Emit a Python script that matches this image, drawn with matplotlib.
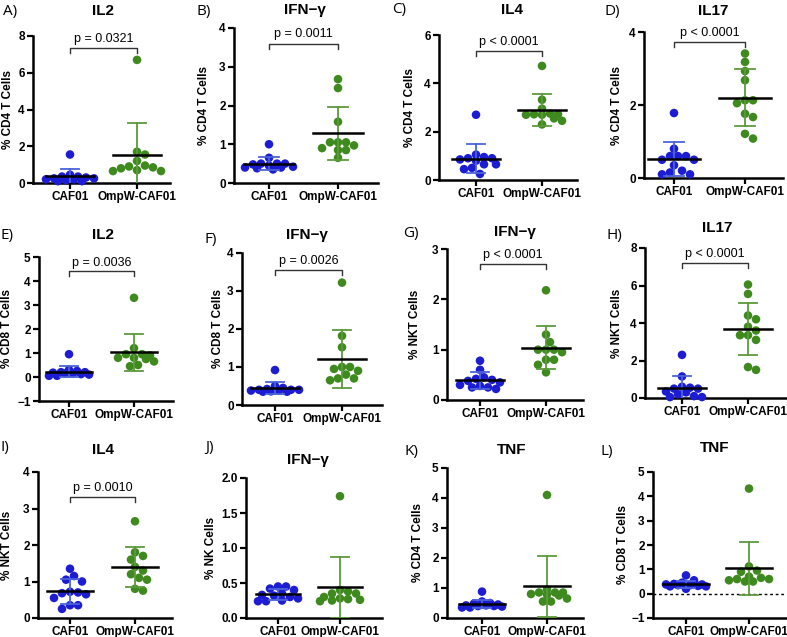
import numpy as np
import matplotlib
matplotlib.use("Agg")
import matplotlib.pyplot as plt

W, H = 787, 637
groups = ["CAF01", "OmpW-CAF01"]

letters = ["A)", "B)", "C)", "D)", "E)", "F)", "G)", "H)", "I)", "J)", "K)", "L)"]
titles = ["IL2", "IFN\u2212\u03b3", "IL4", "IL17", "IL2", "IFN\u2212\u03b3", "IFN\u2212\u03b3", "IL17",
          "IL4", "IFN\u2212\u03b3", "TNF", "TNF"]
ylabels = ["% CD4 T Cells", "% CD4 T Cells", "% CD4 T Cells", "% CD4 T Cells",
           "% CD8 T Cells", "% CD8 T Cells", "% NKT Cells", "% NKT Cells",
           "% NKT Cells", "% NK Cells", "% CD4 T Cells", "% CD8 T Cells"]
pvalues = ["p = 0.0321", "p = 0.0011", "p < 0.0001", "p < 0.0001", "p = 0.0036", "p = 0.0026",
           "p < 0.0001", "p < 0.0001", "p = 0.0010", None, None, None]
yranges = [(0, 8), (0, 4), (0, 6), (0, 4), (-1, 5), (0, 4), (0, 3), (0, 8), (0, 4), (0, 2), (0, 5), (-1, 5)]
yticks = [[0, 2, 4, 6, 8], [0, 1, 2, 3, 4], [0, 2, 4, 6], [0, 2, 4], [-1, 0, 1, 2, 3, 4, 5],
          [0, 1, 2, 3, 4], [0, 1, 2, 3], [0, 2, 4, 6, 8], [0, 1, 2, 3, 4],
          [0.0, 0.5, 1.0, 1.5, 2.0], [0, 1, 2, 3, 4, 5], [-1, 0, 1, 2, 3, 4, 5]]

caf01 = [
    [1.55, 0.45, 0.35, 0.35, 0.3, 0.25, 0.25, 0.2, 0.2, 0.15, 0.1, 0.1],
    [1.0, 0.65, 0.5, 0.5, 0.5, 0.48, 0.45, 0.42, 0.4, 0.4, 0.38, 0.35],
    [2.7, 1.05, 0.95, 0.9, 0.9, 0.85, 0.8, 0.65, 0.65, 0.5, 0.45, 0.25],
    [1.78, 0.8, 0.6, 0.6, 0.6, 0.5, 0.5, 0.35, 0.2, 0.15, 0.1, 0.1],
    [0.95, 0.3, 0.25, 0.2, 0.2, 0.18, 0.15, 0.15, 0.12, 0.1, 0.05, 0.05],
    [0.92, 0.5, 0.45, 0.42, 0.4, 0.4, 0.4, 0.38, 0.38, 0.36, 0.35, 0.35],
    [0.78, 0.6, 0.45, 0.42, 0.4, 0.38, 0.35, 0.3, 0.28, 0.25, 0.25, 0.22],
    [2.3, 1.15, 0.6, 0.55, 0.5, 0.5, 0.35, 0.3, 0.2, 0.1, 0.05, 0.05],
    [1.35, 1.15, 1.05, 1.0, 0.72, 0.7, 0.68, 0.65, 0.55, 0.35, 0.35, 0.25],
    [0.45, 0.45, 0.42, 0.4, 0.35, 0.33, 0.32, 0.3, 0.28, 0.25, 0.24, 0.24],
    [0.88, 0.55, 0.5, 0.48, 0.45, 0.42, 0.42, 0.4, 0.4, 0.38, 0.35, 0.35],
    [0.75, 0.55, 0.45, 0.4, 0.38, 0.38, 0.35, 0.35, 0.32, 0.3, 0.3, 0.2],
]
ompw = [
    [6.7, 1.7, 1.55, 1.2, 0.95, 0.9, 0.85, 0.8, 0.7, 0.65, 0.65],
    [2.68, 2.45, 1.58, 1.05, 1.05, 1.05, 0.97, 0.9, 0.85, 0.85, 0.65],
    [4.72, 3.32, 2.95, 2.75, 2.72, 2.72, 2.7, 2.7, 2.55, 2.45, 2.3],
    [3.41, 3.18, 2.93, 2.68, 2.13, 2.13, 2.05, 1.76, 1.67, 1.21, 1.08],
    [3.3, 1.2, 0.95, 0.95, 0.9, 0.8, 0.8, 0.75, 0.65, 0.5, 0.45],
    [3.22, 1.82, 1.52, 1.0, 1.0, 0.95, 0.9, 0.8, 0.7, 0.7, 0.65],
    [2.18, 1.3, 1.15, 1.0, 1.0, 1.0, 0.95, 0.8, 0.8, 0.7, 0.55],
    [6.05, 5.55, 4.4, 4.2, 3.8, 3.6, 3.35, 3.35, 3.1, 1.65, 1.5],
    [2.65, 1.8, 1.7, 1.6, 1.4, 1.3, 1.2, 1.1, 1.05, 0.8, 0.75],
    [1.74, 0.4, 0.38, 0.35, 0.35, 0.3, 0.28, 0.27, 0.26, 0.25, 0.24],
    [4.1, 0.95, 0.85, 0.85, 0.85, 0.8, 0.78, 0.75, 0.65, 0.55, 0.55],
    [4.32, 1.12, 0.95, 0.9, 0.7, 0.65, 0.6, 0.6, 0.55, 0.5, 0.5],
]

# layout in pixels: (left, right, top, bottom, x of CAF01, x of OmpW)
boxes = [
    (33, 170, 36, 183, 70, 137), (234, 378, 28, 183, 269, 338),
    (439, 577, 35, 180, 476, 542), (644, 783, 32, 178, 674, 745),
    (39, 173, 257, 401, 69, 134), (242, 382, 253, 405, 275, 342),
    (447, 583, 249, 400, 480, 546), (645, 786, 248, 398, 682, 748),
    (38, 172, 472, 618, 70, 135), (246, 382, 478, 618, 278, 340),
    (447, 583, 468, 618, 482, 547), (653, 786, 472, 618, 686, 749),
]
ylabel_x = [8, 204, 410, 617, 7, 218, 415, 617, 7, 211, 418, 623]
letter_pos = [(3, 12), (196, 12), (392, 10), (604, 12), (0, 235), (205, 240), (403, 233), (607, 235),
              (0, 448), (205, 448), (405, 452), (600, 452)]
title_pos = [(103, 11), (305, 10), (512, 10), (713, 11), (103, 235), (307, 235), (515, 232), (717, 228),
             (103, 450), (308, 460), (512, 450), (715, 448)]
bracket_frac = [0.92, 0.90, 0.89, 0.93, 0.90, 0.89, 0.90, 0.90, 0.83]

blue = "#1c1cd2"
blue_err = "#4a62d8"
green = "#3f8a1f"
green_err = "#5c9a3c"

plt.rcParams["font.family"] = ["Liberation Sans", "DejaVu Sans"]

fig = plt.figure(figsize=(W / 100, H / 100), dpi=100)


def swarm(vals, px_per_unit, d, s, maxw):
    vals = np.asarray(vals, float)
    order = np.argsort(-vals)
    placed = []
    offs = np.zeros(len(vals))
    cands = [0.0]
    j = 1
    while j * d * 0.5 <= maxw:
        cands += [j * d * 0.5, -j * d * 0.5]
        j += 1
    for i in order:
        y = vals[i] * px_per_unit
        best, bestd = None, -1
        for c in cands:
            md = min([np.hypot(c - px, y - py) for px, py in placed] or [1e9])
            if md >= d * 0.95:
                best = c
                break
            if md > bestd:
                bestd, best = md, c
        placed.append((best, y))
        offs[i] = best / s
    return offs


for k in range(12):
    L, R, T, B, c0, c1 = boxes[k]
    s = c1 - c0
    ax = fig.add_axes([L / W, 1 - B / H, (R - L) / W, (B - T) / H])
    ymin, ymax = yranges[k]
    ax.set_xlim(-(c0 - L) / s, (R - c0) / s)
    ax.set_ylim(ymin, ymax)
    ppu = (B - T) / (ymax - ymin)
    for gi, (vals, col, ecol) in enumerate([(caf01[k], blue, blue_err), (ompw[k], green, green_err)]):
        v = np.asarray(vals, float)
        xo = gi + swarm(v, ppu, 8.0, s, 0.36 * s)
        ax.scatter(xo, v, s=38, color=col, edgecolors="none", zorder=3, clip_on=False)
        m = v.mean()
        sd = v.std(ddof=1)
        ax.plot([gi, gi], [m - sd, m + sd], color=ecol, lw=1.3, zorder=4)
        for yy in (m - sd, m + sd):
            ax.plot([gi - 0.14, gi + 0.14], [yy, yy], color=ecol, lw=1.3, zorder=4)
        ax.plot([gi - 0.36, gi + 0.36], [m, m], color="black", lw=1.8, zorder=5)
    if k == 11:
        ax.axhline(0, color="black", lw=1.0, ls=(0, (2, 2)), zorder=2)
    ax.spines["top"].set_visible(False)
    ax.spines["right"].set_visible(False)
    for sp in ("left", "bottom"):
        ax.spines[sp].set_linewidth(1.8)
    ax.set_xticks([0, 1])
    ax.set_xticklabels(groups, fontsize=8.5, fontweight="bold")
    ax.set_yticks(yticks[k])
    if k == 9:
        ax.set_yticklabels(["%.1f" % t for t in yticks[k]])
    ax.tick_params(axis="both", width=1.6, length=4, labelsize=8.5, pad=2)
    for lab in ax.get_yticklabels():
        lab.set_fontweight("bold")
    ax.set_ylabel(ylabels[k], fontsize=8.5, fontweight="bold")
    ax.yaxis.set_label_coords((ylabel_x[k] + 6 - L) / (R - L), 0.5)
    if pvalues[k]:
        yb = ymin + bracket_frac[k] * (ymax - ymin)
        h = 0.035 * (ymax - ymin)
        ax.plot([0, 0, 1, 1], [yb - h, yb, yb, yb - h], color="#333333", lw=1.0, clip_on=False)
        ax.text(0.5, yb + 0.02 * (ymax - ymin), pvalues[k], ha="center", va="bottom", fontsize=9)
    fig.text(letter_pos[k][0] / W, 1 - letter_pos[k][1] / H, letters[k], fontsize=11,
             family=["Open Sans", "DejaVu Sans"], ha="left", va="center")
    fig.text(title_pos[k][0] / W, 1 - title_pos[k][1] / H, titles[k], fontsize=11, fontweight="bold",
             ha="center", va="center")

fig.savefig("out.png", dpi=100)
